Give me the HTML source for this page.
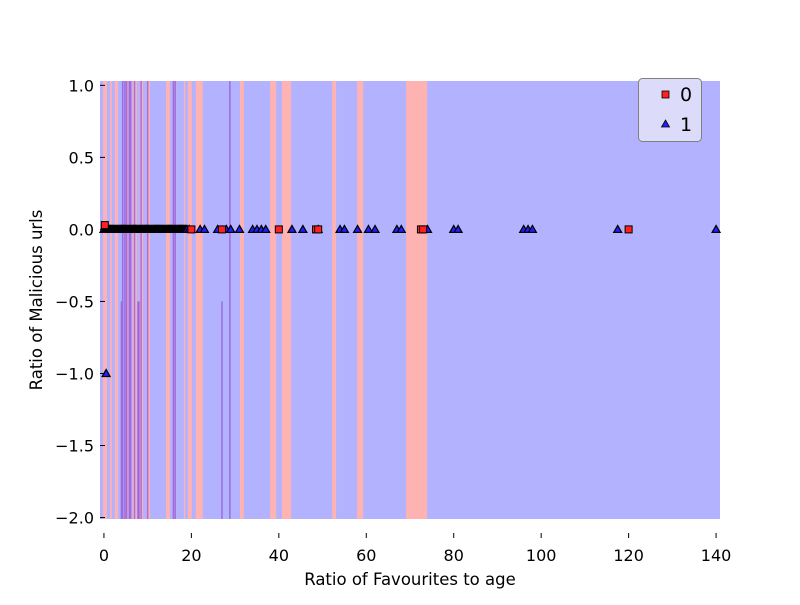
<!DOCTYPE html>
<html><head><meta charset="utf-8"><style>
html,body{margin:0;padding:0;background:#fff;}
svg text{font-family:"DejaVu Sans","Liberation Sans",sans-serif;fill:#000;}
</style></head><body>
<svg id="chart" width="800" height="600" viewBox="0 0 800 600" xmlns="http://www.w3.org/2000/svg">
<g id="regions"></g>
<g id="points"></g>
<g id="axes"></g>
<text x="410" y="585" font-size="16.5" text-anchor="middle">Ratio of Favourites to age</text>
<text x="0" y="0" font-size="16.5" text-anchor="middle" transform="translate(42,300) rotate(-90)">Ratio of Malicious urls</text>
<g>
<rect x="638.5" y="78.5" width="63" height="63" rx="4" fill="#dcdcfa" stroke="#808080" stroke-width="1"/>
<g>
<rect x="662" y="91" width="7" height="7" fill="#ff2020" stroke="#000" stroke-width="0.8"/>
<text x="680" y="101" font-size="19">0</text></g>
<g>
<polygon points="665.5,120 669.5,127 661.5,127" fill="#2020ff" stroke="#000" stroke-width="0.8"/>
<text x="680" y="131" font-size="19">1</text></g>
</g>
</svg>
<script>
// data
const xTicks = [0, 20, 40, 60, 80, 100, 120, 140];
const yTicks = [1.0, 0.5, 0.0, -0.5, -1.0, -1.5, -2.0];
const xDomain = [-0.9, 140.9];
const yDomain = [-2.01, 1.03];
// class-0 (pink) region intervals [x0,x1]
const pinkStart = [-0.2, 1.4, 2.5, 5.3, 6.6, 8.2, 9.8, 14.2, 16.2, 18.3, 19.2, 21.0, 31.1, 38.0, 40.7, 52.2, 57.9, 69.1];
const pinkEnd   = [0.7, 1.8, 3.2, 5.6, 7.5, 8.9, 10.5, 15.1, 16.5, 18.6, 20.1, 22.6, 32.0, 39.4, 42.8, 53.1, 59.3, 73.9];
// thin overlap (purple) lines: x, top y, bottom y
const purpleX   = [4.3, 4.8, 5.2, 5.8, 6.1, 7.0, 8.5, 10.0, 15.9, 16.3, 28.8, 27.0, 4.0, 7.8, 8.0];
const purpleTop = [1.03, 1.03, 1.03, 1.03, 1.03, 1.03, 1.03, 1.03, 1.03, 1.03, 1.03, -0.5, -0.5, -0.5, -0.5];
const purpleBot = [-2.01, -2.01, -2.01, -2.01, -2.01, -2.01, -2.01, -2.01, -2.01, -2.01, -2.01, -2.01, -2.01, -2.01, -2.01];
// class 0 points
const c0x = [0.2, 20.0, 27.0, 40.0, 48.5, 49.0, 72.5, 73.0, 120.0];
const c0y = [0.03, 0, 0, 0, 0, 0, 0, 0, 0];
// class 1 points on y = 0 line
const c1x = [0,0.25,0.5,0.75,1,1.25,1.5,1.75,2,2.25,2.5,2.75,3,3.25,3.5,3.75,4,4.25,4.5,4.75,5,5.25,5.5,5.75,6,6.25,6.5,6.75,7,7.25,7.5,7.75,8,8.25,8.5,8.75,9,9.25,9.5,9.75,10,10.25,10.5,10.75,11,11.25,11.5,11.75,12,12.25,12.5,12.75,13,13.25,13.5,13.75,14,14.25,14.5,14.75,15,15.25,15.5,15.75,16,16.25,16.5,16.75,17,17.25,17.5,17.75,18,18.25,18.5,18.75,19,19.5,22,23,26,28,29,31,34,35,36,37,43,45.5,49,54,55,58,60.5,62,67,68,74,80,81,96,97,98,117.5,140];
const c1y = [0,0,0,0,0,0,0,0,0,0, 0,0,0,0,0,0,0,0,0,0, 0,0,0,0,0,0,0,0,0,0, 0,0,0,0,0,0,0,0,0,0, 0,0,0,0,0,0,0,0,0,0, 0,0,0,0,0,0,0,0,0,0, 0,0,0,0,0,0,0,0,0,0, 0,0,0,0,0,0,0,0,0,0, 0,0,0,0,0,0,0,0,0,0, 0,0,0,0,0,0,0,0,0,0, 0,0,0,0,0,0];
// class 1 outlier
const c1oX = [0.5];
const c1oY = [-1.0];

const L=100, R=720, T=81, B=519;
function X(v){ return L + (v - xDomain[0]) / (xDomain[1]-xDomain[0]) * (R-L); }
function Y(v){ return B - (v - yDomain[0]) / (yDomain[1]-yDomain[0]) * (B-T); }
const NS='http://www.w3.org/2000/svg';
function mk(tag, attrs, parent){ const e=document.createElementNS(NS,tag); for(const k in attrs) e.setAttribute(k, attrs[k]); parent.appendChild(e); return e; }

const reg=document.getElementById('regions');
const bg=mk('rect',{x:X(xDomain[0]),y:Y(yDomain[1]),width:X(xDomain[1])-X(xDomain[0]),height:Y(yDomain[0])-Y(yDomain[1]),fill:'#b2b2ff'},reg);


pinkStart.forEach((s,i)=>{
  const r=mk('rect',{x:X(s),y:Y(yDomain[1]),width:Math.max(1,X(pinkEnd[i])-X(s)),height:Y(yDomain[0])-Y(yDomain[1]),fill:'#ffb2b2'},reg);
  
  
});
purpleX.forEach((x,i)=>{
  const r=mk('rect',{x:X(x)-0.75,y:Y(purpleTop[i]),width:1.5,height:Y(purpleBot[i])-Y(purpleTop[i]),fill:'#9a5ad8',opacity:0.8},reg);
  
  
});

const pts=document.getElementById('points');
function tri(x,y){
  const cx=X(x), cy=Y(y);
  const p=mk('polygon',{points:`${cx},${cy-4} ${cx+4},${cy+3} ${cx-4},${cy+3}`,fill:'#2020ff',stroke:'#000','stroke-width':1.2},pts);
  
  
}
c1x.forEach((x,i)=>tri(x,c1y[i]));
c1oX.forEach((x,i)=>tri(x,c1oY[i]));
c0x.forEach((x,i)=>{
  const cx=X(x), cy=Y(c0y[i]);
  const p=mk('rect',{x:cx-3.5,y:cy-3.5,width:7,height:7,fill:'#ff2020',stroke:'#000','stroke-width':1},pts);
  
  
});

const ax=document.getElementById('axes');
xTicks.forEach(v=>{
  const x=X(v);
  const t=mk('line',{x1:x,x2:x,y1:533,y2:538,stroke:'#000','stroke-width':1},ax);
  
  
  const l=mk('text',{x:x,y:561,'font-size':16,'text-anchor':'middle'},ax);
  l.textContent=String(v);
  
  
});
yTicks.forEach(v=>{
  const y=Y(v);
  const t=mk('line',{x1:100,x2:105,y1:y,y2:y,stroke:'#000','stroke-width':1},ax);
  
  
  const l=mk('text',{x:94,y:y+6,'font-size':16,'text-anchor':'end'},ax);
  l.textContent=(v<0?'\u2212':'')+Math.abs(v).toFixed(1);
  
  
});
</script>
</body></html>
